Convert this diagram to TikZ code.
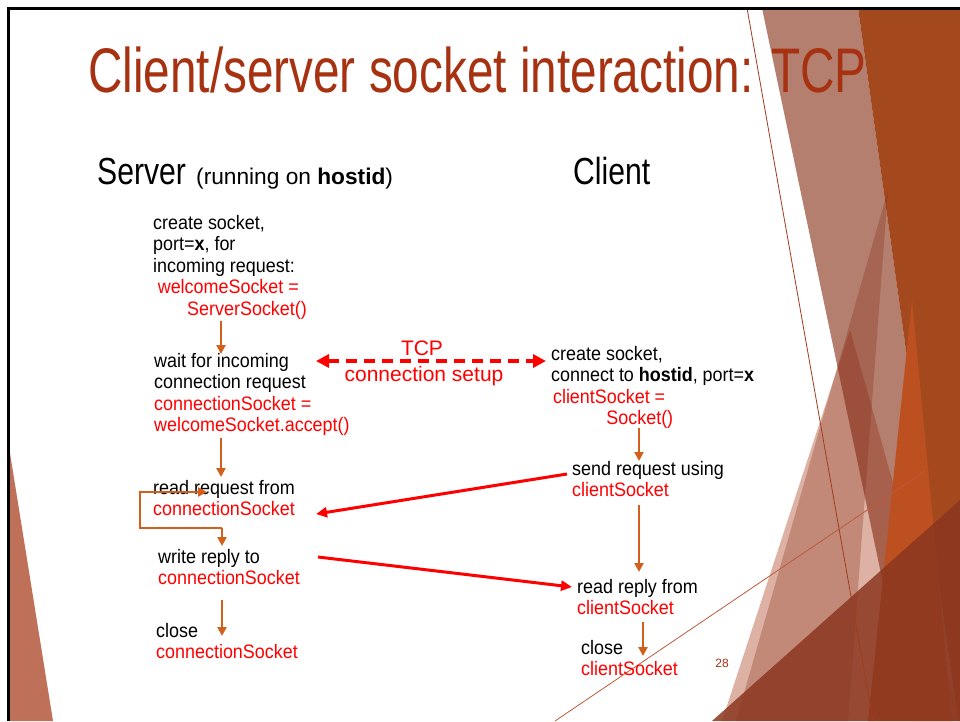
\documentclass[tikz,border=0pt]{standalone}
\usepackage{fontspec}
\setmainfont{Liberation Sans}
\usetikzlibrary{arrows.meta}
\definecolor{titlec}{RGB}{166,50,18}
\definecolor{arrc}{RGB}{208,96,28}
\definecolor{redc}{RGB}{255,0,0}
\definecolor{darkor}{RGB}{164,73,30}
\definecolor{brightor}{RGB}{188,80,32}
\definecolor{veilc}{RGB}{132,42,17}
\definecolor{palec}{RGB}{180,86,57}
\definecolor{deepc}{RGB}{139,55,32}
\definecolor{leftc}{RGB}{190,112,88}
\newcommand{\blk}[1]{\scalebox{0.92}[1]{\vtop{\baselineskip=21.5pt\lineskiplimit=-100pt\lineskip=0pt #1}}}
\newcommand{\rd}[1]{\textcolor{redc}{#1}}
\tikzset{
  txt/.style={anchor=base west, inner sep=0pt, font=\fontsize{19.5}{21.5}\selectfont},
  hdr/.style={anchor=base west, inner sep=0pt, font=\fontsize{37.7}{40}\selectfont},
  oarrow/.style={draw=arrc, line width=2.4pt, -{Triangle[length=9pt,width=9pt]}},
  rarrow/.style={draw=redc, line width=3pt, -{Triangle[length=11pt,width=10pt]}},
  darrow/.style={draw=redc, line width=4pt, dash pattern=on 11pt off 7pt, {Triangle[length=13pt,width=13pt]}-{Triangle[length=13pt,width=13pt]}},
  lbl/.style={anchor=base, inner sep=0pt, text=redc, font=\fontsize{21}{24}\selectfont}
}
\begin{document}
\begin{tikzpicture}[x=1pt,y=-1pt]
\useasboundingbox (0,0) rectangle (960,721);
\fill[white] (0,0) rectangle (960,721);
% decoration right
\fill[darkor] (858,8) -- (960,8) -- (960,721) -- (958,721) -- cycle;
\fill[palec, opacity=0.45] (850,330) -- (960,721) -- (722,721) -- cycle;
\fill[veilc, opacity=0.6] (762,8) -- (858,8) -- (958,721) -- (912,721) -- cycle;
\fill[veilc, opacity=0.3] (888,190) -- (848,721) -- (736,721) -- cycle;
\fill[brightor] (912,300) -- (952,721) -- (868,721) -- cycle;
\fill[deepc, opacity=0.85] (712,721) -- (960,500) -- (960,721) -- cycle;
\draw[color={rgb,255:red,160;green,60;blue,30}, line width=0.8pt] (747,8) -- (873,721);
\draw[color={rgb,255:red,190;green,90;blue,60}, line width=0.8pt] (555,721) -- (925,471);
% decoration left
\fill[leftc] (9,447) -- (53,721) -- (9,721) -- cycle;
\draw[line width=3pt] (8,721) -- (8,8) -- (960,8);
% title
\node[anchor=base west, inner sep=0pt, text=titlec, font=\fontsize{63}{70}\selectfont] (title) at (88,92) {\scalebox{0.757}[1]{Client/server socket interaction: TCP}};
% headers
\node[hdr] (srv) at (97,184) {\scalebox{0.8}[1]{Server}};
\node[anchor=base west, inner sep=0pt, font=\fontsize{22.7}{26}\selectfont] (run) at (196,184) {(running on \textbf{hostid})};
\node[hdr] (cli) at (573,184) {\scalebox{0.8}[1]{Client}};
% server blocks
\node[txt] (s1) at (153,229) {\blk{\hbox{create socket,}\hbox{port=\textbf{x}, for}\hbox{incoming request:}\hbox{\hspace*{5pt}\rd{welcomeSocket =}}\hbox{\hspace*{37pt}\rd{ServerSocket()}}}};
\node[txt] (s2) at (154,367) {\blk{\hbox{wait for incoming}\hbox{connection request}\hbox{\rd{connectionSocket =}}\hbox{\rd{welcomeSocket.accept()}}}};
\node[txt] (s3) at (153,494) {\blk{\hbox{read request from}\hbox{\rd{connectionSocket}}}};
\node[txt] (s4) at (158,563) {\blk{\hbox{write reply to}\hbox{\rd{connectionSocket}}}};
\node[txt] (s5) at (156,637) {\blk{\hbox{close}\hbox{\rd{connectionSocket}}}};
% client blocks
\node[txt] (c1) at (551,360) {\blk{\hbox{create socket,}\hbox{connect to \textbf{hostid}, port=\textbf{x}}\hbox{\hspace*{2pt}\rd{clientSocket =}}\hbox{\hspace*{60pt}\rd{Socket()}}}};
\node[txt] (c2) at (572,475) {\blk{\hbox{send request using}\hbox{\rd{clientSocket}}}};
\node[txt] (c3) at (577,593) {\blk{\hbox{read reply from}\hbox{\rd{clientSocket}}}};
\node[txt] (c4) at (581,654) {\blk{\hbox{close}\hbox{\rd{clientSocket}}}};
% TCP label
\node[lbl] (tcp) at (422,355) {TCP};
\node[lbl] (setup) at (424,381) {connection setup};
\node[anchor=base, inner sep=0pt, text=titlec, font=\fontsize{12}{14}\selectfont] (pg) at (722,667) {28};
% coordinates
\coordinate (a1s) at (221,321); \coordinate (a1e) at (221,354);
\coordinate (a2s) at (221,438); \coordinate (a2e) at (221,477);
\coordinate (lpA) at (222,528); \coordinate (lpB) at (222,546);
\coordinate (lpC) at (140,528); \coordinate (lpD) at (140,492); \coordinate (lpE) at (207,492);
\coordinate (a4s) at (222,600); \coordinate (a4e) at (222,636);
\coordinate (b1s) at (639,428); \coordinate (b1e) at (639,461);
\coordinate (b2s) at (639,505); \coordinate (b2e) at (639,572);
\coordinate (b3s) at (643,622); \coordinate (b3e) at (643,656);
\coordinate (r1s) at (567,474); \coordinate (r1e) at (316,514);
\coordinate (r2s) at (318,557); \coordinate (r2e) at (572,587);
\coordinate (dL) at (316,361); \coordinate (dR) at (546,361);
% connectors
\draw[oarrow] (a1s) -- (a1e);
\draw[oarrow] (a2s) -- (a2e);
\draw[oarrow] (lpA) -- (lpB);
\draw[oarrow] (lpA) -- (lpC) -- (lpD) -- (lpE);
\draw[oarrow] (a4s) -- (a4e);
\draw[oarrow] (b1s) -- (b1e);
\draw[oarrow] (b2s) -- (b2e);
\draw[oarrow] (b3s) -- (b3e);
\draw[rarrow] (r1s) -- (r1e);
\draw[rarrow] (r2s) -- (r2e);
\draw[darrow] (dL) -- (dR);
\end{tikzpicture}
\end{document}
